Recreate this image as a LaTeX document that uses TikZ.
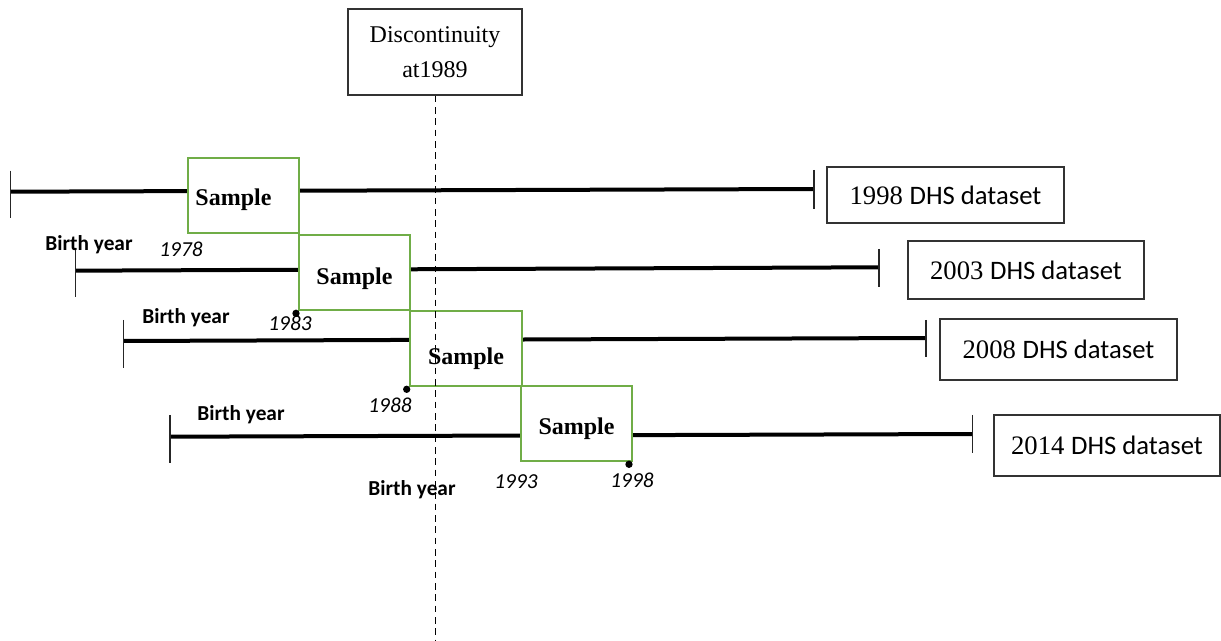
\documentclass[tikz,border=0pt]{standalone}
\usepackage{fontspec}
\setmainfont{Liberation Serif}
\newfontfamily\calfont{Carlito}
\definecolor{sgreen}{RGB}{112,173,71}
\newcommand{\lowered}[2]{\raisebox{-#1}[\height][\depth]{#2}}
\begin{document}
\begin{tikzpicture}[x=0.75pt,y=-0.75pt,
  tl/.style={line width=3pt},
  tick/.style={line width=0.9pt,black!85},
  samplebox/.style={draw=sgreen,line width=1.5pt,fill=white,minimum width=83.25pt,minimum height=56.25pt,inner sep=0pt,font=\fontsize{18}{20}\selectfont\bfseries},
  dsbox/.style={draw=black!80,line width=1.1pt,fill=white,inner sep=0pt,font=\fontsize{20}{22}\selectfont},
  discbox/.style={draw=black!80,line width=1.1pt,fill=white,inner sep=0pt,align=center,minimum width=130.5pt,minimum height=64.5pt,font=\fontsize{18}{26}\selectfont},
  birth/.style={font=\calfont\bfseries\fontsize{16}{18}\selectfont,inner sep=0pt},
  yr/.style={font=\calfont\itshape\fontsize{16}{18}\selectfont,inner sep=0pt},
  dot/.style={circle,fill=black,inner sep=0pt,minimum size=5.5pt},
  disc/.style={dash pattern=on 5pt off 3.5pt,line width=0.7pt}]
\useasboundingbox (0,0) rectangle (1221,641);

% timeline end points
\coordinate (a1) at (10.7,191.7); \coordinate (b1) at (814,189);
\coordinate (a2) at (75.3,270.7); \coordinate (b2) at (879,267.3);
\coordinate (a3) at (123.3,341); \coordinate (b3) at (926,338);
\coordinate (a4) at (170,436.7); \coordinate (b4) at (972.7,434);

% timelines
\draw[tl] (a1) -- (b1);
\draw[tl] (a2) -- (b2);
\draw[tl] (a3) -- (b3);
\draw[tl] (a4) -- (b4);

% end ticks
\draw[tick] (10.7,170.7) -- (10.7,218);
\draw[tick] (814,170) -- (814,209);
\draw[tick] (75.3,250) -- (75.3,297);
\draw[tick] (879,249) -- (879,287);
\draw[tick] (123.3,320) -- (123.3,368);
\draw[tick] (926,320) -- (926,357);
\draw[tick] (170,415) -- (170,463);
\draw[tick] (972.7,415) -- (972.7,453);

% sample boxes
\node[samplebox] (s1) at (243.5,195.5) {\lowered{3pt}{Sample}\hspace*{15pt}};
\node[samplebox] (s2) at (354.5,272.5) {\lowered{4.5pt}{Sample}};
\node[samplebox,minimum width=84pt] (s3) at (466,348.5) {\lowered{8pt}{Sample}};
\node[samplebox] (s4) at (576.5,424) {\lowered{3.75pt}{Sample}};

% dataset boxes
\node[dsbox,minimum width=177.75pt,minimum height=42pt] (d1) at (945.5,195) {1998 {\calfont DHS dataset}};
\node[dsbox,minimum width=177pt,minimum height=43.5pt] (d2) at (1026,270) {2003 {\calfont DHS dataset}};
\node[dsbox,minimum width=177.75pt,minimum height=45.75pt] (d3) at (1058.5,349.5) {2008 {\calfont DHS dataset}};
\node[dsbox,minimum width=169.5pt,minimum height=45.75pt] (d4) at (1107,445.5) {2014 {\calfont DHS dataset}};

% discontinuity
\node[discbox] (dc) at (435,52) {Discontinuity\\at1989};
\coordinate (dcend) at (435,641);
\draw[disc] (dc.south) -- (dcend);

% dots
\node[dot] (p2) at (296,313.3) {};
\node[dot] (p3) at (406.7,389.3) {};
\node[dot] (p4) at (629,464.3) {};

% labels
\node[birth] (by1) at (89,245) {Birth year};
\node[birth] (by2) at (186,318) {Birth year};
\node[birth] (by3) at (241,415) {Birth year};
\node[birth] (by4) at (412,490) {Birth year};
\node[yr] (y1) at (181,249) {1978};
\node[yr] (y2) at (290,323) {1983};
\node[yr] (y3) at (390,405) {1988};
\node[yr] (y4) at (516,481.7) {1993};
\node[yr] (y5) at (632,480.7) {1998};
\end{tikzpicture}
\end{document}
